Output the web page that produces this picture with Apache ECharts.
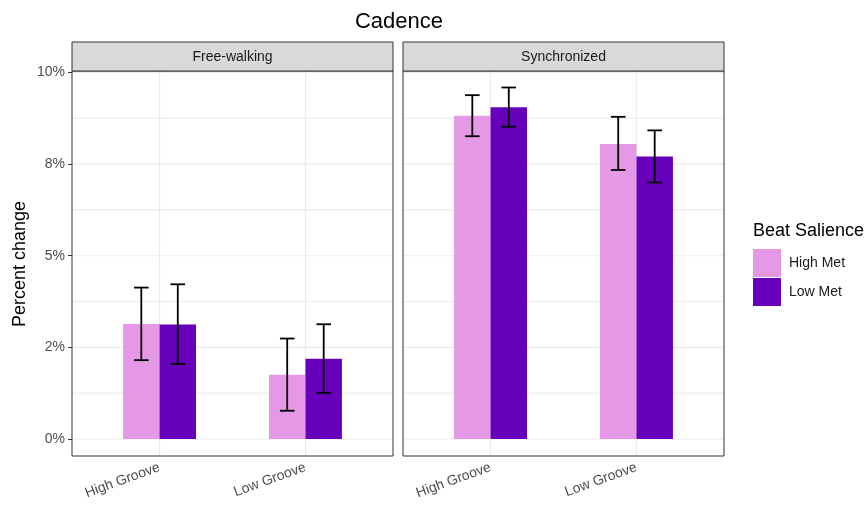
<!DOCTYPE html>
<html>
<head>
<meta charset="utf-8">
<script src="https://cdn.jsdelivr.net/npm/echarts@6/dist/echarts.min.js"></script>
<style>html,body{margin:0;padding:0;background:#fff}#c{width:868px;height:506px}</style>
</head>
<body>
<div id="c"></div>
<script>
const chartTitle = 'Cadence';
const facets = ['Free-walking', 'Synchronized'];
const categories = ['High Groove', 'Low Groove'];
const metLevels = ['High Met', 'Low Met'];

const freeHighMet   = [3.14, 1.75];
const freeHighMetLo = [2.15, 0.77];
const freeHighMetHi = [4.13, 2.74];
const freeLowMet    = [3.12, 2.19];
const freeLowMetLo  = [2.05, 1.26];
const freeLowMetHi  = [4.22, 3.13];

const syncHighMet   = [8.82, 8.05];
const syncHighMetLo = [8.26, 7.34];
const syncHighMetHi = [9.38, 8.79];
const syncLowMet    = [9.05, 7.71];
const syncLowMetLo  = [8.52, 7.00];
const syncLowMetHi  = [9.59, 8.42];

const yTickValues = [0, 2.5, 5, 7.5, 10];
const yTickLabels = ['0%', '2%', '5%', '8%', '10%'];
const yGridValues = [0, 1.25, 2.5, 3.75, 5, 6.25, 7.5, 8.75, 10];
const xGridValues = [1, 2];

const colors = {'High Met': '#E598E5', 'Low Met': '#6600BB'};
const FONT = '"Liberation Sans", Arial, Helvetica, sans-serif';
const X_MIN = 0.4, X_MAX = 2.6, Y_MIN = -0.465, Y_MAX = 10.04;

function makeData(means, lo, hi) {
  return means.map((m, i) => [i + 1, m, lo[i], hi[i]]);
}

function makeSeries(name, gridIdx, data, offset) {
  return {
    type: 'custom',
    name: name,
    xAxisIndex: gridIdx,
    yAxisIndex: gridIdx,
    itemStyle: {color: colors[name]},
    encode: {x: 0, y: [1, 2, 3]},
    data: data,
    z: 3,
    renderItem: function (params, api) {
      const x = api.value(0) + offset;
      const v = api.value(1), lo = api.value(2), hi = api.value(3);
      const p0 = api.coord([x - 0.125, v]);
      const p1 = api.coord([x + 0.125, 0]);
      const cL = api.coord([x - 0.05, hi]);
      const cR = api.coord([x + 0.05, lo]);
      const c = api.coord([x, hi]);
      const cb = api.coord([x, lo]);
      const ls = {stroke: '#000', lineWidth: 1.8};
      return {
        type: 'group',
        children: [
          {type: 'rect', shape: {x: p0[0], y: p0[1], width: p1[0] - p0[0], height: p1[1] - p0[1]},
           style: {fill: colors[name]}},
          {type: 'line', shape: {x1: c[0], y1: c[1], x2: cb[0], y2: cb[1]}, style: ls, z2: 5},
          {type: 'line', shape: {x1: cL[0], y1: cL[1], x2: cR[0], y2: cL[1]}, style: ls, z2: 5},
          {type: 'line', shape: {x1: cL[0], y1: cR[1], x2: cR[0], y2: cR[1]}, style: ls, z2: 5}
        ]
      };
    }
  };
}

function gridLineSeries(gridIdx, values, horizontal) {
  return {
    type: 'custom',
    name: 'grid-' + gridIdx + (horizontal ? 'h' : 'v'),
    xAxisIndex: gridIdx,
    yAxisIndex: gridIdx,
    silent: true,
    z: 1,
    data: values.map(v => [v]),
    encode: horizontal ? {y: 0} : {x: 0},
    renderItem: function (params, api) {
      const v = api.value(0);
      const a = horizontal ? api.coord([X_MIN, v]) : api.coord([v, Y_MIN]);
      const b = horizontal ? api.coord([X_MAX, v]) : api.coord([v, Y_MAX]);
      return {type: 'line', shape: {x1: a[0], y1: a[1], x2: b[0], y2: b[1]},
              style: {stroke: '#ebebeb', lineWidth: 1.1}};
    }
  };
}

const grids = [
  {left: 72, right: 475, top: 71, bottom: 50, show: true, borderColor: '#333333', borderWidth: 1, backgroundColor: 'transparent', z: 2},
  {left: 403, right: 144, top: 71, bottom: 50, show: true, borderColor: '#333333', borderWidth: 1, backgroundColor: 'transparent', z: 2}
];

function xAxis(i) {
  return {
    type: 'value', gridIndex: i, min: X_MIN, max: X_MAX,
    axisLine: {show: false},
    axisTick: {show: true, length: 4, lineStyle: {color: '#333333', width: 1}, customValues: xGridValues},
    axisLabel: {
      customValues: xGridValues, rotate: 20, margin: 11,
      color: '#4d4d4d', fontSize: 14, fontFamily: FONT,
      formatter: v => categories[Math.round(v) - 1]
    },
    splitLine: {show: false}
  };
}

function yAxis(i) {
  return {
    type: 'value', gridIndex: i, min: Y_MIN, max: Y_MAX,
    axisLine: {show: false},
    axisTick: {show: i === 0, length: 4, lineStyle: {color: '#333333', width: 1}, customValues: yTickValues},
    axisLabel: {
      show: i === 0, customValues: yTickValues, margin: 7,
      color: '#4d4d4d', fontSize: 14, fontFamily: FONT,
      formatter: v => {
        const k = yTickValues.findIndex(t => Math.abs(t - v) < 1e-6);
        return k >= 0 ? yTickLabels[k] : '';
      }
    },
    splitLine: {show: false}
  };
}

const stripGraphics = [];
[[72, 393], [403, 724]].forEach((r, i) => {
  stripGraphics.push({
    type: 'rect', shape: {x: r[0], y: 42, width: r[1] - r[0], height: 29},
    style: {fill: '#d9d9d9', stroke: '#333333', lineWidth: 1}, z: 10
  });
  stripGraphics.push({
    type: 'text', x: (r[0] + r[1]) / 2, y: 57,
    style: {text: facets[i], fill: '#1a1a1a', font: '14px ' + FONT, textAlign: 'center', textVerticalAlign: 'middle'}, z: 11
  });
});

const option = {
  animation: false,
  backgroundColor: '#ffffff',
  title: {
    text: chartTitle, left: 394, top: 6, textAlign: 'center',
    textStyle: {fontFamily: FONT, fontSize: 22, fontWeight: 'normal', color: '#000'}
  },
  grid: grids,
  xAxis: [xAxis(0), xAxis(1)],
  yAxis: [yAxis(0), yAxis(1)],
  legend: {
    data: metLevels, orient: 'vertical', left: 753, top: 249, padding: 0,
    icon: 'rect', itemWidth: 28, itemHeight: 28, itemGap: 1,
    textStyle: {fontFamily: FONT, fontSize: 14, color: '#1a1a1a', padding: [0, 0, 0, 3]},
    selectedMode: false
  },
  graphic: stripGraphics.concat([
    {type: 'text', x: 753, y: 231,
     style: {text: 'Beat Salience', fill: '#000', font: '18px ' + FONT, textAlign: 'left', textVerticalAlign: 'middle'}},
    {type: 'text', x: 20, y: 264, rotation: Math.PI / 2,
     style: {text: 'Percent change', fill: '#000', font: '18px ' + FONT, textAlign: 'center', textVerticalAlign: 'middle'}}
  ]),
  series: [
    gridLineSeries(0, yGridValues, true),
    gridLineSeries(0, xGridValues, false),
    gridLineSeries(1, yGridValues, true),
    gridLineSeries(1, xGridValues, false),
    makeSeries('High Met', 0, makeData(freeHighMet, freeHighMetLo, freeHighMetHi), -0.125),
    makeSeries('Low Met', 0, makeData(freeLowMet, freeLowMetLo, freeLowMetHi), 0.125),
    makeSeries('High Met', 1, makeData(syncHighMet, syncHighMetLo, syncHighMetHi), -0.125),
    makeSeries('Low Met', 1, makeData(syncLowMet, syncLowMetLo, syncLowMetHi), 0.125)
  ]
};

const chart = echarts.init(document.getElementById('c'), null, {renderer: 'canvas'});
chart.setOption(option);
</script>
</body>
</html>
